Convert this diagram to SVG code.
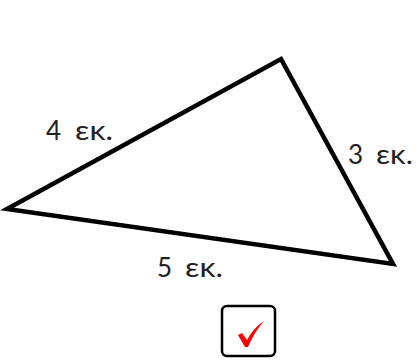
<svg xmlns="http://www.w3.org/2000/svg" width="418" height="360" viewBox="0 0 418 360">
<style>
.lbl{font-family:"Lato","Open Sans",sans-serif;font-size:26px;fill:#222}
</style>
<rect width="418" height="360" fill="#fff"/>
<g id="triangle">
<polygon points="7,209 281,59 393,264" fill="none" stroke="#000" stroke-width="4.5" stroke-linejoin="miter"/>
</g>
<g id="labels">
<text class="lbl" y="140"><tspan x="46">4</tspan><tspan x="75" textLength="38" lengthAdjust="spacingAndGlyphs">εκ.</tspan></text>
<text class="lbl" y="164"><tspan x="348">3</tspan><tspan x="376" textLength="37" lengthAdjust="spacingAndGlyphs">εκ.</tspan></text>
<text class="lbl" y="277"><tspan x="157">5</tspan><tspan x="185" textLength="38" lengthAdjust="spacingAndGlyphs">εκ.</tspan></text>
</g>
<g id="checkbox">
<rect x="222" y="306" width="53" height="50" rx="5" fill="#fff" stroke="#000" stroke-width="2.5"/>
<path d="M238,335 L242,333 L247,340 Q254,327 264,321 Q255,331 248,347 L245,347 Z" fill="#f00"/>
</g>
</svg>
